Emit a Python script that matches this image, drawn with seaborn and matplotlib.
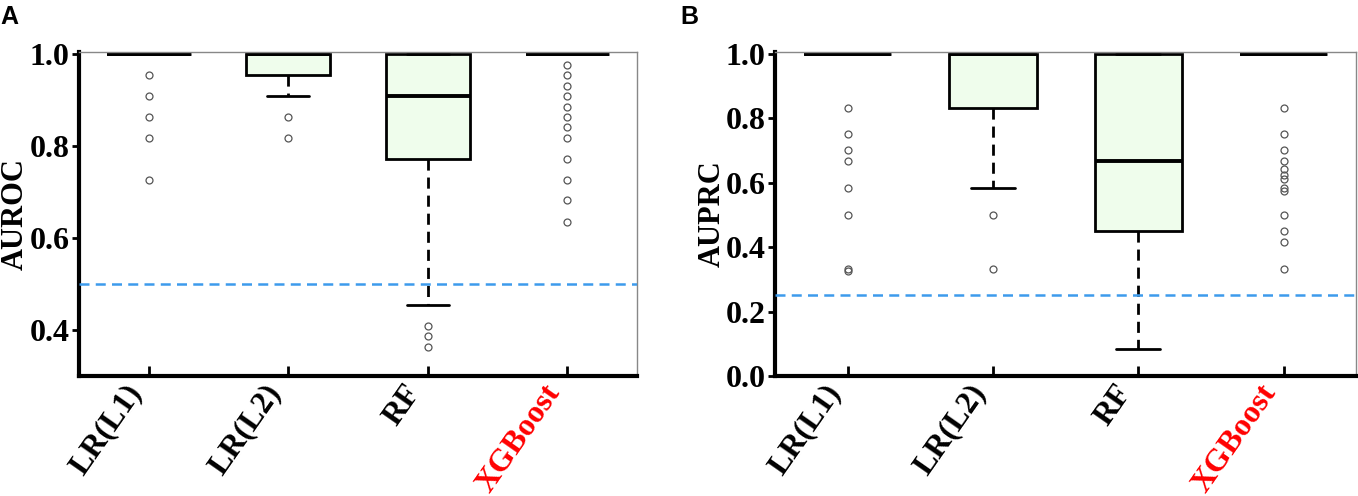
import numpy as np
import pandas as pd
import matplotlib
matplotlib.use("Agg")
import matplotlib.pyplot as plt
import matplotlib.transforms as mtransforms
import seaborn as sns

# ---------------- data (value / count tables per model) ----------------
models = ["LR(L1)", "LR(L2)", "RF", "XGBoost"]

# Panel A: AUROC
auroc_l1_vals = [0.727, 0.818, 0.864, 0.909, 0.955, 1.0]
auroc_l1_cnts = [1, 1, 1, 1, 1, 55]
auroc_l2_vals = [0.818, 0.864, 0.909, 0.955, 1.0]
auroc_l2_cnts = [1, 1, 1, 18, 39]
auroc_rf_vals = [0.364, 0.386, 0.409, 0.455, 0.5, 0.545, 0.591, 0.636, 0.682,
                 0.727, 0.773, 0.818, 0.864, 0.909, 0.955, 1.0]
auroc_rf_cnts = [1, 1, 1, 1, 1, 1, 2, 2, 2, 2, 6, 4, 5, 8, 7, 16]
auroc_xgb_vals = [0.636, 0.682, 0.727, 0.773, 0.818, 0.841, 0.864, 0.886,
                  0.909, 0.932, 0.955, 0.977, 1.0]
auroc_xgb_cnts = [1, 1, 1, 1, 1, 1, 1, 1, 1, 1, 1, 1, 48]
auroc_chance = 0.5

# Panel B: AUPRC
auprc_l1_vals = [0.325, 0.333, 0.5, 0.583, 0.667, 0.7, 0.75, 0.833, 1.0]
auprc_l1_cnts = [1, 1, 1, 1, 1, 1, 1, 1, 52]
auprc_l2_vals = [0.333, 0.5, 0.584, 0.833, 1.0]
auprc_l2_cnts = [1, 1, 1, 18, 39]
auprc_rf_vals = [0.083, 0.125, 0.167, 0.2, 0.25, 0.3, 0.333, 0.375, 0.417,
                 0.45, 0.5, 0.556, 0.583, 0.6, 0.625, 0.667, 0.7, 0.75, 0.8,
                 0.833, 1.0]
auprc_rf_cnts = [1, 1, 1, 1, 2, 1, 3, 2, 2, 3, 5, 2, 2, 1, 2, 6, 1, 4, 1, 3, 16]
auprc_xgb_vals = [0.333, 0.417, 0.45, 0.5, 0.575, 0.583, 0.611, 0.625, 0.643,
                  0.667, 0.7, 0.75, 0.833, 1.0]
auprc_xgb_cnts = [1, 1, 1, 1, 1, 1, 1, 1, 1, 1, 1, 1, 1, 47]
auprc_chance = 0.25

auroc_ticks = [0.4, 0.6, 0.8, 1.0]
auprc_ticks = [0.0, 0.2, 0.4, 0.6, 0.8, 1.0]


def long_df(tables):
    rows = []
    for m, (vals, cnts) in zip(models, tables):
        for v in np.repeat(vals, cnts):
            rows.append((m, v))
    return pd.DataFrame(rows, columns=["model", "value"])


df_a = long_df([(auroc_l1_vals, auroc_l1_cnts), (auroc_l2_vals, auroc_l2_cnts),
                (auroc_rf_vals, auroc_rf_cnts), (auroc_xgb_vals, auroc_xgb_cnts)])
df_b = long_df([(auprc_l1_vals, auprc_l1_cnts), (auprc_l2_vals, auprc_l2_cnts),
                (auprc_rf_vals, auprc_rf_cnts), (auprc_xgb_vals, auprc_xgb_cnts)])

# ---------------- style ----------------
sns.set_style("white")
plt.rcParams["font.family"] = ["Liberation Serif", "DejaVu Serif"]
plt.rcParams["text.color"] = "black"
plt.rcParams["axes.labelcolor"] = "black"
plt.rcParams["xtick.color"] = "black"
plt.rcParams["ytick.color"] = "black"

fig = plt.figure(figsize=(13.58, 4.96), dpi=100)
ax_a = fig.add_axes([0.0582, 0.242, 0.411, 0.653])
ax_b = fig.add_axes([0.5707, 0.242, 0.428, 0.653])

FILL = "#effdec"
BLUE = "#3d9bec"
FS = 23


def draw(ax, df, ylabel, ylim, ticks, chance, label_x):
    sns.boxplot(data=df, x="model", y="value", order=models, ax=ax,
                width=0.6, color=FILL, saturation=1, linecolor="black",
                linewidth=2, whis=1.5, fliersize=5,
                medianprops={"linewidth": 2.8, "color": "black"},
                whiskerprops={"linestyle": (0, (4, 2.5)), "linewidth": 2},
                capprops={"linewidth": 2},
                flierprops={"marker": "o", "markerfacecolor": "none",
                            "markeredgecolor": "#555555",
                            "markeredgewidth": 0.9})
    ax.axhline(chance, color=BLUE, linestyle=(0, (4, 2.5)), linewidth=1.8,
               zorder=5)
    ax.set_ylim(*ylim)
    ax.set_xlim(-0.5, 3.5)
    ax.set_yticks(ticks)
    ax.set_xlabel("")
    ax.set_ylabel(ylabel, fontsize=22, fontweight="bold", color="black")
    ax.yaxis.label.set_verticalalignment("baseline")
    ax.yaxis.set_label_coords(label_x, 0.5)
    for s in ["left", "bottom"]:
        ax.spines[s].set_linewidth(3)
        ax.spines[s].set_color("black")
    for s in ["top", "right"]:
        ax.spines[s].set_linewidth(1)
        ax.spines[s].set_color("#888888")
    ax.tick_params(axis="y", direction="out", length=5, width=2,
                   labelsize=FS, pad=2, left=True, colors="black")
    ax.tick_params(axis="x", direction="in", length=7, width=2,
                   labelsize=FS, pad=6, bottom=True, colors="black")
    for lab in ax.get_yticklabels():
        lab.set_fontweight("bold")
    ax.set_xticks(range(len(models)))
    ax.set_xticklabels(models, rotation=55, ha="right", va="center",
                       rotation_mode="anchor", fontweight="bold",
                       color="black")
    ax.get_xticklabels()[-1].set_color("red")
    shift = mtransforms.ScaledTranslation(-13 / 100, -3 / 100,
                                          fig.dpi_scale_trans)
    for lab in ax.get_xticklabels():
        lab.set_transform(lab.get_transform() + shift)


draw(ax_a, df_a, "AUROC", (0.3, 1.005), auroc_ticks, auroc_chance, -0.100)
draw(ax_b, df_b, "AUPRC", (0.0, 1.005), auprc_ticks, auprc_chance, -0.095)

fig.text(0.0, 1 - 5 / 496, "A", ha="left", va="top", fontsize=18,
         fontweight="bold", family="Liberation Sans", color="black")
fig.text(0.5007, 1 - 5 / 496, "B", ha="left", va="top", fontsize=18,
         fontweight="bold", family="Liberation Sans", color="black")

fig.savefig("out.png", dpi=100)
